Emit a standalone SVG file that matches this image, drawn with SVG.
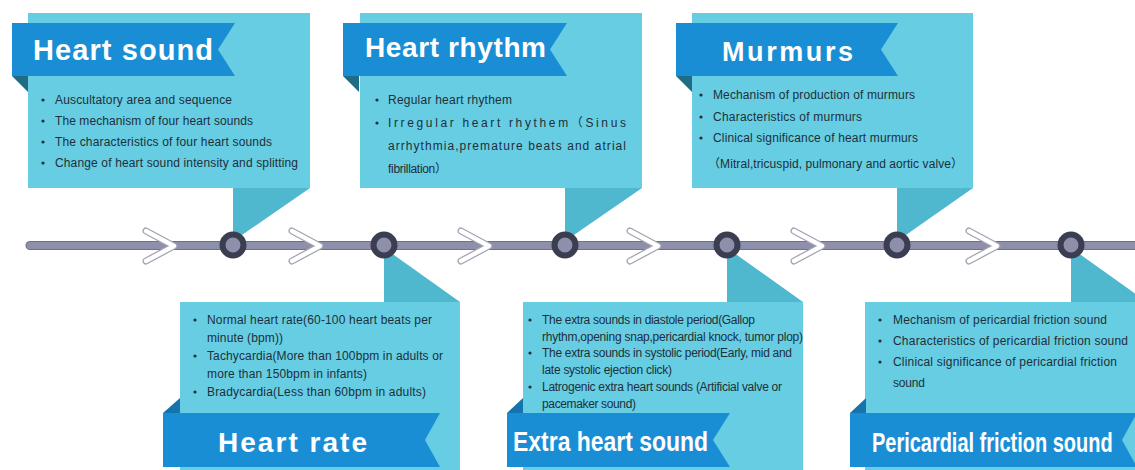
<svg xmlns="http://www.w3.org/2000/svg" width="1135" height="470" viewBox="0 0 1135 470">
<style>
.box{fill:#66cde3}
.tail{fill:#4fb8cf}
.ban{fill:#1a8ed5}
.foldt{fill:#1f6c85}
.foldb{fill:#1574ad}
.ttl{font-family:"Liberation Sans",Arial,sans-serif;font-weight:bold;fill:#ffffff}
.txt{font-family:"Liberation Sans",Arial,"Noto Sans CJK SC",sans-serif;font-size:12px;fill:#1f2f3a}
.dot{fill:#1f2f3a}
.chev-o{fill:none;stroke:#a3a3b2;stroke-width:7;stroke-linecap:round;stroke-linejoin:round}
.chev-i{fill:none;stroke:#ffffff;stroke-width:4.4;stroke-linecap:round;stroke-linejoin:round}
.ring{fill:#8d8fab;stroke:#3b3d50;stroke-width:6}
</style>
<defs>
<polyline id="chev" points="0,231 28,246 0,261"/>
</defs>

<g id="node-heart-sound">
<rect class="box" x="28" y="13" width="282" height="175"/>
<polygon class="tail" points="233,188 310,188 239,237 233,237"/>
<polygon class="ban" points="12,23 235,23 218,49.5 235,76 12,76"/>
<polygon class="foldt" points="12,76 28,76 28,92"/>
<text class="ttl" x="33" y="60" font-size="29" textLength="180">Heart sound</text>
<circle class="dot" cx="43" cy="100" r="1.6"/><text class="txt" x="55" y="104" textLength="177">Auscultatory area and sequence</text>
<circle class="dot" cx="43" cy="121" r="1.6"/><text class="txt" x="55" y="125" textLength="198">The mechanism of four heart sounds</text>
<circle class="dot" cx="43" cy="142" r="1.6"/><text class="txt" x="55" y="146" textLength="217">The characteristics of four heart sounds</text>
<circle class="dot" cx="43" cy="163" r="1.6"/><text class="txt" x="55" y="167" textLength="243">Change of heart sound intensity and splitting</text>
</g>

<g id="node-heart-rhythm">
<rect class="box" x="360" y="13" width="282" height="175"/>
<polygon class="tail" points="565,188 642,188 571,237 565,237"/>
<polygon class="ban" points="343,23 567,23 550,49.5 567,76 343,76"/>
<polygon class="foldt" points="343,76 359,76 359,92"/>
<text class="ttl" x="365" y="57" font-size="28" textLength="181">Heart rhythm</text>
<circle class="dot" cx="377" cy="100" r="1.6"/><text class="txt" x="388" y="104" textLength="124">Regular heart rhythem</text>
<circle class="dot" cx="377" cy="123" r="1.6"/><text class="txt" x="388" y="127" textLength="238">Irregular heart rhythem（Sinus</text>
<text class="txt" x="388" y="150" textLength="238">arrhythmia,premature beats and atrial</text>
<text class="txt" x="388" y="173" textLength="59">fibrillation）</text>
</g>

<g id="node-murmurs">
<rect class="box" x="692" y="13" width="281" height="175"/>
<polygon class="tail" points="897,188 973,188 903,237 897,237"/>
<polygon class="ban" points="676,23 898,23 881,49.5 898,76 676,76"/>
<polygon class="foldt" points="676,76 692,76 692,92"/>
<text class="ttl" x="722" y="61" font-size="27" textLength="131">Murmurs</text>
<circle class="dot" cx="701" cy="95" r="1.6"/><text class="txt" x="713" y="99" textLength="202">Mechanism of production of murmurs</text>
<circle class="dot" cx="701" cy="117" r="1.6"/><text class="txt" x="713" y="121" textLength="149">Characteristics of murmurs</text>
<circle class="dot" cx="701" cy="138" r="1.6"/><text class="txt" x="713" y="142" textLength="205">Clinical significance of heart murmurs</text>
<text class="txt" x="708" y="168" textLength="255">（Mitral,tricuspid, pulmonary and aortic valve）</text>
</g>

<g id="node-heart-rate">
<rect class="box" x="180" y="302" width="280" height="168"/>
<polygon class="tail" points="384,255 394,255 460,302 384,302"/>
<polygon class="ban" points="163,413 440,413 425,440 440,467 163,467"/>
<polygon class="foldb" points="163,413 180,398 180,413"/>
<text class="ttl" x="218" y="452" font-size="28" textLength="149">Heart rate</text>
<circle class="dot" cx="195" cy="320" r="1.6"/><text class="txt" x="207" y="324" textLength="225">Normal heart rate(60-100 heart beats per</text>
<text class="txt" x="207" y="342" textLength="76">minute (bpm))</text>
<circle class="dot" cx="195" cy="356" r="1.6"/><text class="txt" x="207" y="360" textLength="236">Tachycardia(More than 100bpm in adults or</text>
<text class="txt" x="207" y="378" textLength="160">more than 150bpm in infants)</text>
<circle class="dot" cx="195" cy="392" r="1.6"/><text class="txt" x="207" y="396" textLength="219">Bradycardia(Less than 60bpm in adults)</text>
</g>

<g id="node-extra-heart-sound">
<rect class="box" x="523" y="302" width="280" height="168"/>
<polygon class="tail" points="727,255 737,255 803,302 727,302"/>
<polygon class="ban" points="507,413 730,413 713,440 730,467 507,467"/>
<polygon class="foldb" points="507,413 523,398 523,413"/>
<text class="ttl" transform="translate(513,451) scale(0.82,1)" x="0" y="0" font-size="28" textLength="238">Extra heart sound</text>
<circle class="dot" cx="530" cy="320" r="1.6"/><text class="txt" x="542" y="324" textLength="213">The extra sounds in diastole period(Gallop</text>
<text class="txt" x="542" y="341" textLength="261">rhythm,opening snap,pericardial knock,  tumor plop)</text>
<circle class="dot" cx="530" cy="353" r="1.6"/><text class="txt" x="542" y="357" textLength="250">The extra sounds in systolic period(Early, mid and</text>
<text class="txt" x="542" y="374" textLength="130">late systolic ejection click)</text>
<circle class="dot" cx="530" cy="387" r="1.6"/><text class="txt" x="542" y="391" textLength="240">Latrogenic extra heart sounds (Artificial valve or</text>
<text class="txt" x="542" y="408" textLength="94">pacemaker sound)</text>
</g>

<g id="node-pericardial-friction-sound">
<rect class="box" x="865" y="302" width="280" height="168"/>
<polygon class="tail" points="1071,255 1081,255 1147,302 1071,302"/>
<polygon class="ban" points="850,413 1137,413 1122,440 1137,467 850,467"/>
<polygon class="foldb" points="850,413 866,398 866,413"/>
<text class="ttl" transform="translate(872,452) scale(0.714,1)" x="0" y="0" font-size="28" textLength="337">Pericardial friction sound</text>
<circle class="dot" cx="880" cy="320" r="1.6"/><text class="txt" x="893" y="324" textLength="214">Mechanism of pericardial friction sound</text>
<circle class="dot" cx="880" cy="341" r="1.6"/><text class="txt" x="893" y="345" textLength="235">Characteristics of pericardial friction sound</text>
<circle class="dot" cx="880" cy="362" r="1.6"/><text class="txt" x="893" y="366" textLength="224">Clinical significance of pericardial friction</text>
<text class="txt" x="893" y="387" textLength="32">sound</text>
</g>

<g id="connectors">
<line x1="30" y1="245.5" x2="1140" y2="245.5" stroke="#6f7189" stroke-width="9" stroke-linecap="round"/>
<line x1="30" y1="245.5" x2="1140" y2="245.5" stroke="#8d8fab" stroke-width="7" stroke-linecap="round"/>
<g transform="translate(146,0)"><use href="#chev" class="chev-o"/><use href="#chev" class="chev-i"/></g>
<g transform="translate(292,0)"><use href="#chev" class="chev-o"/><use href="#chev" class="chev-i"/></g>
<g transform="translate(461,0)"><use href="#chev" class="chev-o"/><use href="#chev" class="chev-i"/></g>
<g transform="translate(630,0)"><use href="#chev" class="chev-o"/><use href="#chev" class="chev-i"/></g>
<g transform="translate(794,0)"><use href="#chev" class="chev-o"/><use href="#chev" class="chev-i"/></g>
<g transform="translate(969,0)"><use href="#chev" class="chev-o"/><use href="#chev" class="chev-i"/></g>
</g>

<g id="timeline-points">
<circle class="ring" cx="233" cy="245" r="10.5"/>
<circle class="ring" cx="384" cy="245" r="10.5"/>
<circle class="ring" cx="565" cy="245" r="10.5"/>
<circle class="ring" cx="727" cy="245" r="10.5"/>
<circle class="ring" cx="897" cy="245" r="10.5"/>
<circle class="ring" cx="1071" cy="245" r="10.5"/>
</g>
</svg>
